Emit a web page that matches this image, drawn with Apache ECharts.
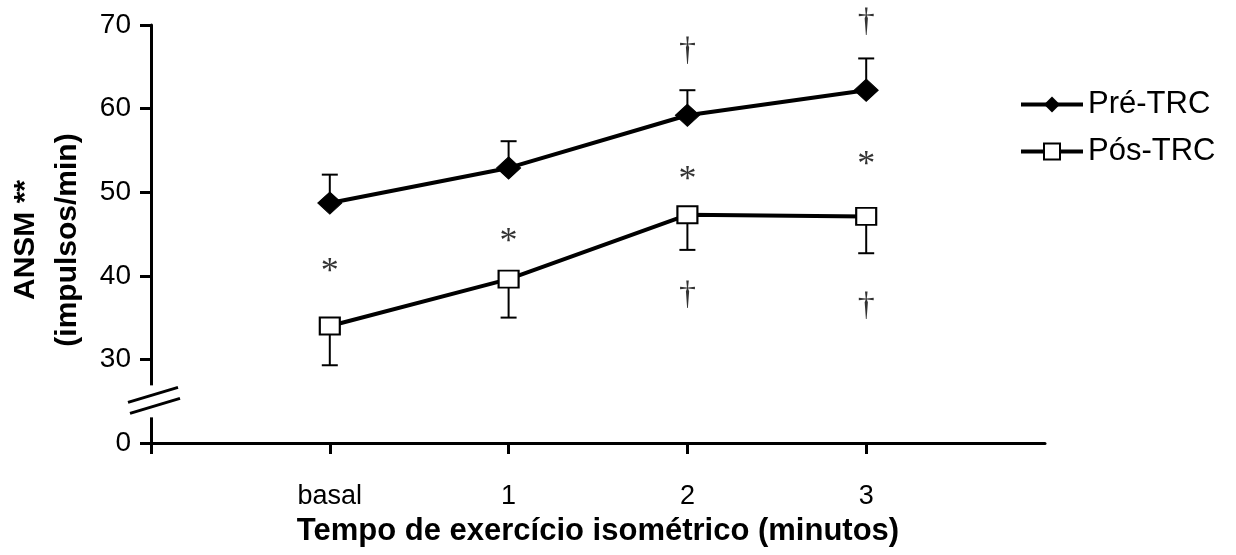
<!DOCTYPE html>
<html lang="pt">
<head>
<meta charset="utf-8">
<title>ANSM Pré-TRC e Pós-TRC</title>
<script src="https://cdn.jsdelivr.net/npm/echarts@6/dist/echarts.min.js"></script>
<style>
    html, body { margin:0; padding:0; background:#fff; }
    #main { width:1236px; height:555px; }
</style>
</head>
<body>
<div id="main"></div>
<script>
    // tempo (x) : -1 e 4 sao so as pontas do eixo
    let xPos = [0, 1, 2, 3]
    let xLabels = ['basal', '1', '2', '3']

    let preValues = [48.7, 52.9, 59.2, 62.2]
    let preUpper = [52.1, 56.1, 62.2, 66.0]
    let posValues = [34.0, 39.6, 47.3, 47.1]
    let posLower = [29.3, 35.0, 43.1, 42.7]

    let starPoints = [[0, 41.3], [1, 44.9], [2, 52.4], [3, 54.2]]
    let daggerPoints = [[2, 67.1], [3, 70.6], [2, 37.9], [3, 36.6]]

    // 20 no eixo quebrado corresponde ao 0
    let yTicks = [20, 30, 40, 50, 60, 70]
    let yTickLabels = ['0', '30', '40', '50', '60', '70']
    let breakPoint = [[-1, 25.1]]

    let fontSans = 'Liberation Sans'
    let fontSerif = 'Liberation Serif'

    let chart = echarts.init(document.getElementById('main'))

    const errorBar = function (params, api) {
        let x = api.value(0)
        let p0 = api.coord([x, api.value(1)])
        let p1 = api.coord([x, api.value(2)])
        return {
            type: 'group',
            children: [
                {type: 'line', shape: {x1: p0[0], y1: p0[1], x2: p1[0], y2: p1[1]}, style: {stroke: '#000', lineWidth: 2}},
                {type: 'line', shape: {x1: p1[0] - 8, y1: p1[1], x2: p1[0] + 8, y2: p1[1]}, style: {stroke: '#000', lineWidth: 2}},
            ]
        }
    }

    const axisBreak = function (params, api) {
        let c = api.coord([api.value(0), api.value(1)])
        return {
            type: 'group',
            children: [
                {type: 'rect', shape: {x: c[0] - 5, y: c[1] - 15, width: 10, height: 32}, style: {fill: '#fff'}},
                {type: 'line', shape: {x1: c[0] - 23, y1: c[1] + 2, x2: c[0] + 27, y2: c[1] - 13}, style: {stroke: '#000', lineWidth: 3}},
                {type: 'line', shape: {x1: c[0] - 21, y1: c[1] + 13, x2: c[0] + 29, y2: c[1] - 2}, style: {stroke: '#000', lineWidth: 3}},
            ]
        }
    }

    const marks = function (txt, size, dy) {
        return {
            show: true,
            position: 'inside',
            formatter: txt,
            fontFamily: fontSerif,
            fontSize: size,
            color: '#000',
            offset: [0, dy],
        }
    }

    chart.setOption({
        animation: false,
        textStyle: {fontFamily: fontSans},
        grid: {left: 151, right: 191, top: 25, bottom: 112, outerBoundsMode: 'none'},
        legend: {
            orient: 'vertical',
            left: 1014,
            top: 84,
            itemWidth: 62,
            itemHeight: 20,
            itemGap: 16,
            data: ['Pré-TRC', 'Pós-TRC'],
            lineStyle: {width: 4},
            textStyle: {fontSize: 31, color: '#000', fontFamily: fontSans},
        },
        xAxis: {
            type: 'value',
            min: -1,
            max: 4,
            interval: 1,
            splitLine: {show: false},
            axisLine: {onZero: false, lineStyle: {color: '#000', width: 3}},
            axisTick: {show: true, length: 11, lineStyle: {color: '#000', width: 3}, customValues: [-1, 0, 1, 2, 3]},
            axisLabel: {
                customValues: xPos,
                formatter: function (v) { return xLabels[xPos.indexOf(v)] },
                fontSize: 27,
                color: '#000',
                margin: 40,
            },
            name: 'Tempo de exercício isométrico (minutos)',
            nameLocation: 'middle',
            nameGap: 73,
            nameTextStyle: {fontSize: 31, fontWeight: 'bold', color: '#000'},
        },
        yAxis: {
            type: 'value',
            min: 20,
            max: 70,
            interval: 10,
            splitLine: {show: false},
            axisLine: {show: true, onZero: false, lineStyle: {color: '#000', width: 3}},
            axisTick: {show: true, length: 11, lineStyle: {color: '#000', width: 3}, customValues: yTicks},
            axisLabel: {
                customValues: yTicks,
                formatter: function (v) { return yTickLabels[yTicks.indexOf(v)] },
                fontSize: 28,
                color: '#000',
                margin: 20,
            },
            name: 'ANSM **\n(impulsos/min)',
            nameLocation: 'middle',
            nameRotate: 90,
            nameGap: 60,
            nameTextStyle: {fontSize: 30, fontWeight: 'bold', color: '#000', lineHeight: 42, padding: [0, 12, 0, 0]},
        },
        series: [
            {
                type: 'custom',
                renderItem: errorBar,
                data: preValues.map((v, i) => [xPos[i], v, preUpper[i]]),
                z: 2,
                silent: true,
            },
            {
                type: 'custom',
                renderItem: errorBar,
                data: posValues.map((v, i) => [xPos[i], v, posLower[i]]),
                z: 2,
                silent: true,
            },
            {
                name: 'Pré-TRC',
                type: 'line',
                data: preValues.map((v, i) => [xPos[i], v]),
                symbol: 'diamond',
                symbolSize: [24, 22],
                lineStyle: {color: '#000', width: 4},
                itemStyle: {color: '#000', borderColor: '#000'},
                z: 3,
            },
            {
                name: 'Pós-TRC',
                type: 'line',
                data: posValues.map((v, i) => [xPos[i], v]),
                symbol: 'rect',
                symbolSize: [20, 17],
                lineStyle: {color: '#000', width: 4},
                itemStyle: {color: '#fff', borderColor: '#000', borderWidth: 2},
                z: 3,
            },
            {
                type: 'scatter',
                data: starPoints,
                symbolSize: 1,
                itemStyle: {color: 'transparent'},
                label: marks('*', 36, 8),
                silent: true,
                clip: false,
                z: 4,
            },
            {
                type: 'scatter',
                data: daggerPoints,
                symbolSize: 1,
                itemStyle: {color: 'transparent'},
                label: marks('†', 34, 2),
                silent: true,
                clip: false,
                z: 4,
            },
            {
                type: 'custom',
                renderItem: axisBreak,
                data: breakPoint,
                clip: false,
                silent: true,
                z: 5,
            },
        ]
    })
</script>
</body>
</html>
